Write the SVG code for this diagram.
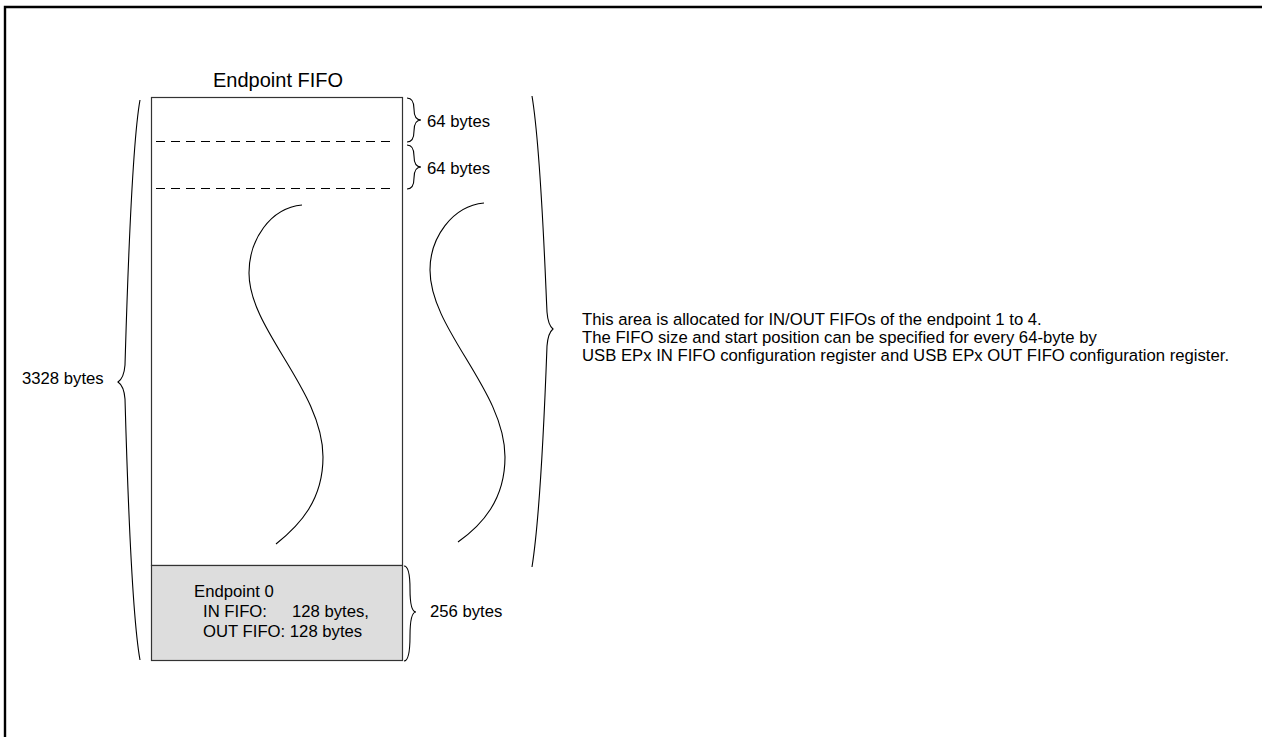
<svg xmlns="http://www.w3.org/2000/svg" width="1262" height="737" viewBox="0 0 1262 737">
<style>
text{font-family:"Liberation Sans",Arial,sans-serif;font-size:16.7px;fill:#000}
.ln{fill:none;stroke:#000;stroke-width:1.1}
.box{stroke:#333;stroke-width:1.2}
.dash{fill:none;stroke:#000;stroke-width:1;stroke-dasharray:9 6}
</style>
<rect width="1262" height="737" fill="#fff"/>
<path d="M5,740 V7 H1266" fill="none" stroke="#000" stroke-width="2.4"/>
<g id="fifo">
<text x="213" y="87" style="font-size:20px">Endpoint FIFO</text>
<rect class="box" x="151.5" y="97.5" width="251" height="468" fill="#fff"/>
<line class="dash" x1="156" y1="141.5" x2="396" y2="141.5"/>
<line class="dash" x1="156" y1="188.5" x2="396" y2="188.5"/>
<path class="ln" d="M302,205 C270,208 249,240 249,273 C249,330 323,390 323,457 C323,500 300,525 276,544"/>
<path class="ln" d="M484,203 C452,206 430,238 430,270 C430,330 505,390 505,457 C505,500 482,525 458,542"/>
</g>
<g id="ep0">
<rect class="box" x="151.5" y="565.5" width="251" height="95" fill="#dddddd"/>
<text x="194" y="597">Endpoint 0</text>
<text x="203" y="617">IN FIFO:</text>
<text x="292" y="617">128 bytes,</text>
<text x="203" y="637">OUT FIFO: 128 bytes</text>
</g>
<g id="braces">
<path class="ln" d="M407,98 Q414,98 414,109 Q414,120 421,120 Q414,120 414,131 Q414,142 407,142"/>
<path class="ln" d="M407,145 Q414,145 414,156 Q414,167 421,167 Q414,167 414,178 Q414,189 407,189"/>
<path class="ln" d="M404,566 Q410,566 410,589 Q410,612 416,612 Q410,612 410,636 Q410,661 404,661"/>
<path class="ln" d="M140,100 C131,150 127,300 125,365 Q124,378 118,382 Q124,386 125,399 C127,470 131,610 140,660"/>
<path class="ln" d="M532,96 C541,150 545,270 547,312 Q548,325 553,329 Q548,333 547,346 C545,400 541,510 532,567"/>
</g>
<g id="labels">
<text x="427" y="127">64 bytes</text>
<text x="427" y="174">64 bytes</text>
<text x="430" y="617">256 bytes</text>
<text x="22" y="383.5">3328 bytes</text>
<text x="582" y="325">This area is allocated for IN/OUT FIFOs of the endpoint 1 to 4.</text>
<text x="582" y="343">The FIFO size and start position can be specified for every 64-byte by</text>
<text x="582" y="361">USB EPx IN FIFO configuration register and USB EPx OUT FIFO configuration register.</text>
</g>
</svg>
